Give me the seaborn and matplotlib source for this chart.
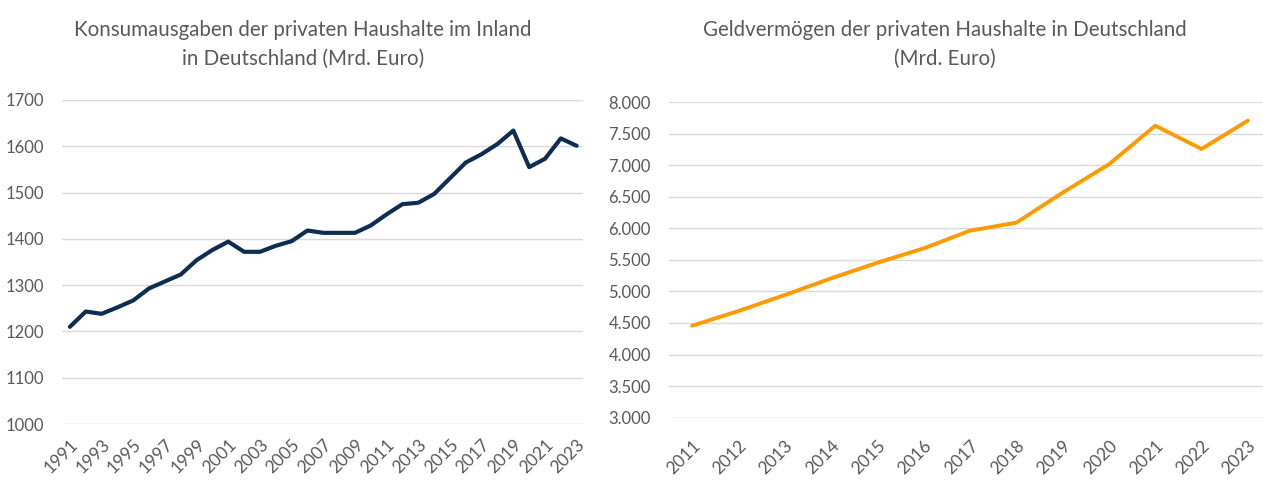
import pandas as pd
import numpy as np
import matplotlib
matplotlib.use('Agg')
import matplotlib.pyplot as plt
import matplotlib.ticker as mticker
import seaborn as sns

# Konsumausgaben der privaten Haushalte (Mrd. Euro)
years_konsum = list(range(1991, 2024))
konsum = [1210, 1243, 1238, 1252, 1267, 1293, 1308, 1323, 1354, 1376, 1394,
          1372, 1372, 1385, 1395, 1418, 1413, 1413, 1413, 1429, 1453, 1475,
          1478, 1497, 1531, 1565, 1583, 1605, 1634, 1555, 1573, 1617, 1601]

# Geldvermoegen der privaten Haushalte (Mrd. Euro)
years_geld = list(range(2011, 2024))
geld = [4457, 4690, 4943, 5207, 5455, 5682, 5962, 6089, 6564, 7013, 7625, 7256, 7705]

left_title = "Konsumausgaben der privaten Haushalte im Inland\nin Deutschland (Mrd. Euro)"
right_title = "Geldvermögen der privaten Haushalte in Deutschland\n(Mrd. Euro)"

df_k = pd.DataFrame({'Jahr': years_konsum, 'Wert': konsum})
df_g = pd.DataFrame({'Jahr': years_geld, 'Wert': geld})

sns.set_style("white")
plt.rcParams['font.family'] = ['Lato', 'DejaVu Sans']

text_grey = '#595959'
grid_grey = '#d9d9d9'

fig = plt.figure(figsize=(12.63, 4.94), dpi=100)
ax1 = fig.add_axes([62 / 1263, 70 / 494, (583 - 62) / 1263, (424 - 100) / 494])
ax2 = fig.add_axes([669 / 1263, 76.3 / 494, (1271 - 669) / 1263, (417.7 - 102) / 494])

sns.lineplot(data=df_k, x='Jahr', y='Wert', ax=ax1, color='#0d2e52', linewidth=3.0)
sns.lineplot(data=df_g, x='Jahr', y='Wert', ax=ax2, color='#ff9a00', linewidth=2.8)

def style_axis(ax):
    for s in ax.spines.values():
        s.set_visible(False)
    ax.grid(axis='y', color=grid_grey, linewidth=1.0)
    ax.grid(axis='x', visible=False)
    ax.set_axisbelow(True)
    ax.set_xlabel('')
    ax.set_ylabel('')
    ax.tick_params(axis='both', length=0, labelcolor=text_grey)
    ax.tick_params(axis='y', pad=13, labelsize=12)
    ax.tick_params(axis='x', labelsize=12.5)
    for lbl in ax.get_xticklabels():
        lbl.set_rotation(45)
        lbl.set_ha('right')
        lbl.set_rotation_mode('anchor')

# left chart
ax1.set_xlim(1990.5, 2023.4)
ax1.set_ylim(1000, 1700)
ax1.set_yticks(range(1000, 1701, 100))
ax1.set_xticks(years_konsum[::2])
ax1.set_xticklabels([str(y) for y in years_konsum[::2]])
style_axis(ax1)
ax1.tick_params(axis='x', pad=9)

# right chart
ax2.set_xlim(2010.5, 2023.5)
ax2.set_ylim(3000, 8000)
ax2.set_yticks(range(3000, 8001, 500))
ax2.yaxis.set_major_formatter(mticker.FuncFormatter(lambda v, p: f"{int(v):,}".replace(',', '.')))
ax2.set_xticks(years_geld)
ax2.set_xticklabels([str(y) for y in years_geld])
style_axis(ax2)
ax2.tick_params(axis='x', pad=14)

fig.text(303 / 1263, 1 - 44 / 494, left_title, ha='center', va='center',
         fontsize=14.8, color=text_grey, linespacing=1.55)
fig.text(945 / 1263, 1 - 44 / 494, right_title, ha='center', va='center',
         fontsize=14.8, color=text_grey, linespacing=1.55)

fig.savefig('out.png', dpi=100)
